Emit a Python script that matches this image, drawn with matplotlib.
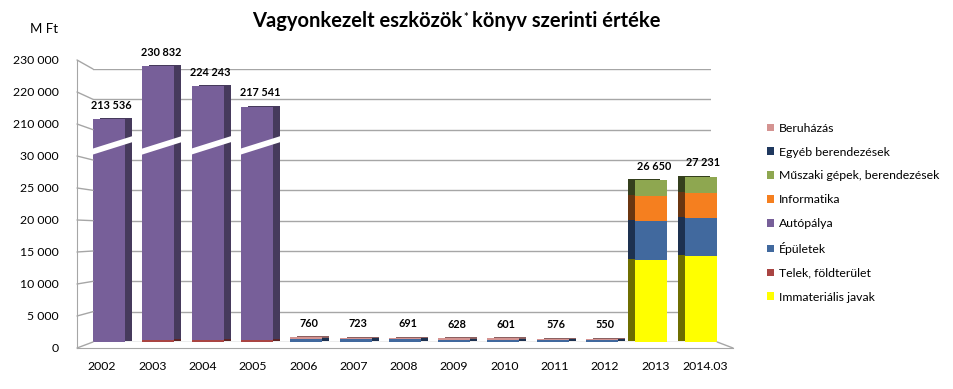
import numpy as np
import matplotlib
matplotlib.use("Agg")
import matplotlib.pyplot as plt
import matplotlib.transforms as mtransforms
from matplotlib.patches import Polygon, Patch, ConnectionPatch

plt.rcParams['font.family'] = ['Lato', 'DejaVu Sans']

# adatok (M Ft)
years = ['2002', '2003', '2004', '2005', '2006', '2007', '2008', '2009',
         '2010', '2011', '2012', '2013', '2014.03']
totals = [213536, 230832, 224243, 217541, 760, 723, 691, 628, 601, 576, 550, 26650, 27231]

immat = [0, 0, 0, 0, 0, 0, 0, 0, 0, 0, 0, 13500, 14100]
telek = [0, 300, 300, 300, 0, 0, 0, 0, 0, 0, 0, 0, 0]
epuletek = [0, 0, 0, 0, 460, 440, 420, 380, 365, 350, 335, 6500, 6400]
autopalya = [213536, 230532, 223943, 217241, 0, 0, 0, 0, 0, 0, 0, 0, 0]
informatika = [0, 0, 0, 0, 0, 0, 0, 0, 0, 0, 0, 4000, 4100]
muszaki = [0, 0, 0, 0, 0, 0, 0, 0, 0, 0, 0, 2650, 2631]
egyeb = [0] * 13
beruhazas = [0, 0, 0, 0, 300, 283, 271, 248, 236, 226, 215, 0, 0]

yt = [0, 5000, 10000, 15000, 20000, 25000, 30000, 210000, 220000, 230000]

# alulrol felfele
series = [
    ('Immateriális javak', immat, '#ffff00', '#6e6e00'),
    ('Telek, földterület', telek, '#a94442', '#5e2424'),
    ('Épületek', epuletek, '#41699e', '#1d3150'),
    ('Autópálya', autopalya, '#775f99', '#463a5c'),
    ('Informatika', informatika, '#f57f1f', '#6a3510'),
    ('Műszaki gépek, berendezések', muszaki, '#8ea750', '#343f1d'),
    ('Egyéb berendezések', egyeb, '#1f385e', '#10203a'),
    ('Beruházás', beruhazas, '#d49391', '#8c6060'),
]


# torott tengely: 0-30000 linearis, 210000 felett fele akkora leptek
def fwd(v):
    v = np.asarray(v, dtype=float)
    return np.where(v <= 30000, v,
                    np.where(v <= 210000, 30000 + (v - 30000) / 36.0,
                             35000 + (v - 210000) / 2.0))


def inv(m):
    m = np.asarray(m, dtype=float)
    return np.where(m <= 30000, m,
                    np.where(m <= 35000, 30000 + (m - 30000) * 36.0,
                             210000 + (m - 35000) * 2.0))


fig = plt.figure(figsize=(9.54, 3.89), dpi=100)

# elso sik: tengelyfeliratok
lax = fig.add_axes([77 / 954, 1 - 348 / 389, 656 / 954, 288 / 389])
lax.set_yscale('function', functions=(fwd, inv))
lax.set_ylim(0, 230000)
lax.set_yticks(yt)
lax.set_yticklabels([f"{v:,}".replace(',', ' ') for v in yt], fontsize=8.8)
lax.yaxis.set_minor_locator(matplotlib.ticker.NullLocator())
lax.tick_params(axis='y', length=0, pad=13)
lax.set_xticks([])
lax.patch.set_visible(False)
for s in ['top', 'right']:
    lax.spines[s].set_visible(False)
lax.spines['left'].set_color('#a6a6a6')
lax.spines['bottom'].set_color('#a6a6a6')

# hatso fal: oszlopok, racsvonalak
ax = fig.add_axes([93 / 954, 1 - 342 / 389, 618 / 954, 273 / 389])
ax.set_yscale('function', functions=(fwd, inv))
ax.patch.set_visible(False)

x = np.arange(len(years))
w = 0.65

shift_right = mtransforms.offset_copy(ax.transData, fig=fig, x=7, y=1, units='dots')
shift_left = mtransforms.offset_copy(ax.transData, fig=fig, x=-7, y=1, units='dots')

bottom = np.zeros(len(years))
for name, vals, col, dark in series:
    vals = np.array(vals, dtype=float)
    for i in range(len(years)):
        if vals[i] <= 0:
            continue
        tr = shift_left if i >= 11 else shift_right
        ax.bar(x[i], vals[i], w, bottom=bottom[i], color=dark, transform=tr,
               zorder=2, clip_on=False)
    ax.bar(x, vals, w, bottom=bottom, color=col, zorder=3, clip_on=False, label=name)
    bottom = bottom + vals

# torespontok a nagy oszlopokon
xtr = ax.get_xaxis_transform()
for i in range(4):
    x0 = x[i] - w / 2 - 0.03
    x1 = x[i] + w / 2 + 0.2
    poly = Polygon([(x0, 0.685), (x1, 0.735), (x1, 0.757), (x0, 0.707)],
                   closed=True, transform=xtr, facecolor='white', edgecolor='none',
                   zorder=5, clip_on=False)
    ax.add_patch(poly)

# ertekcimkek
for i, t in enumerate(totals):
    ax.annotate(f"{t:,}".replace(',', ' '), (x[i], t), xytext=(2, 10),
                textcoords='offset points', ha='center', va='center',
                fontsize=7.8, fontweight='bold', annotation_clip=False)

ax.set_ylim(0, 230000)
ax.set_yticks(yt)
ax.set_yticklabels([])
ax.yaxis.set_minor_locator(matplotlib.ticker.NullLocator())
ax.set_xlim(-0.325, 12.21)
ax.set_xticks(x - 0.142 + 0.0203 * x)
ax.set_xticklabels(years, fontsize=8.8)
ax.tick_params(axis='y', length=0)
ax.tick_params(axis='x', length=0, pad=14)
ax.grid(axis='y', color='#a6a6a6', linewidth=1, zorder=0)
for s in ax.spines.values():
    s.set_visible(False)

# ferde osszekotok a tengely es a hatso fal racsvonalai kozott
for v in yt:
    con = ConnectionPatch(xyA=(0, v), coordsA=lax.get_yaxis_transform(),
                          xyB=(0, v), coordsB=ax.get_yaxis_transform(),
                          color='#a6a6a6', linewidth=1)
    fig.add_artist(con)
con = ConnectionPatch(xyA=(1, 0), coordsA=lax.transAxes, xyB=(1.01, 0),
                      coordsB=ax.transAxes, color='#a6a6a6', linewidth=1)
fig.add_artist(con)

fig.text(0.031, 0.925, 'M Ft', fontsize=9.5, ha='left', va='center')
t1 = fig.text(252 / 954, 0.945, 'Vagyonkezelt eszközök', fontsize=14.5,
              fontweight='bold', ha='left', va='center')
t2 = ax.annotate('*', xy=(1, 0.95), xycoords=t1, xytext=(1, 0),
                 textcoords='offset points', fontsize=8, fontweight='bold',
                 ha='left', va='top', annotation_clip=False)
t3 = ax.annotate('könyv szerinti értéke', xy=(1, 0), xycoords=(t2, t1),
                 xytext=(2.5, 0), textcoords='offset points', fontsize=14.5,
                 fontweight='bold', ha='left', va='bottom', annotation_clip=False)

handles = [Patch(facecolor=col, label=name) for name, vals, col, dark in series][::-1]
fig.legend(handles=handles, loc='upper left', bbox_to_anchor=(0.799, 0.697),
           frameon=False, fontsize=8.8, handlelength=0.6, handleheight=0.6,
           handletextpad=0.4, labelspacing=1.05, borderaxespad=0)

fig.savefig('out.png', dpi=100)
